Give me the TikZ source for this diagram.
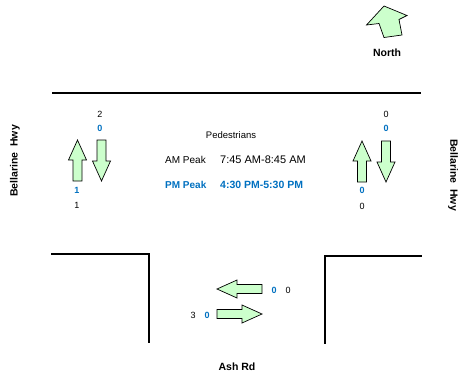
\documentclass[tikz,border=0pt]{standalone}
\usepackage{fontspec}
\setmainfont{Liberation Sans}
\usepackage{xcolor}
\usetikzlibrary{positioning}
\definecolor{VerdeFlecha}{RGB}{204,255,204}
\definecolor{AzulPM}{RGB}{0,112,192}

\tikzset{
  largo/.store in=\largo, largo=41,
  flecha/.pic={
    \draw[fill=VerdeFlecha,line width=0.7pt,line join=miter]
      (0,-4.5) -- (\largo-20,-4.5) -- (\largo-20,-9) -- (\largo,0)
      -- (\largo-20,9) -- (\largo-20,4.5) -- (0,4.5) -- cycle;
  },
  via/.style={line width=2.6pt},
  calle/.style={font=\bfseries\fontsize{10.5}{12}\selectfont},
  conteo/.style={font=\fontsize{9}{10}\selectfont,inner sep=0pt},
  conteopm/.style={conteo,text=AzulPM,font=\bfseries\fontsize{9}{10}\selectfont},
}

\begin{document}
\begin{tikzpicture}[x=1pt,y=-1pt]
  \useasboundingbox (0,0) rectangle (462,378);
  % bordes de la via
  \draw[via] (52,93)--(421,93);
  \draw[via,line cap=rect] (52,254)--(149,254)--(149,342);
  \draw[via,line cap=rect] (421,256)--(325,256)--(325,343);

  % norte
  \draw[fill=VerdeFlecha,line width=0.7pt,line join=miter]
    (384,6)--(407,15.5)--(399,19.5)--(402,35)--(384,37.5)--(379,23.5)--(366.5,25)--cycle;
  \node[calle] (norte) at (387,53) {North};

  % flechas de la Bellarine Hwy
  \pic[rotate=90] at (77.5,181) {flecha};
  \pic[rotate=-90] at (101.5,140) {flecha};
  \pic[rotate=90] at (362,182) {flecha};
  \pic[rotate=-90] at (386,141) {flecha};

  \node[conteo] (o1) at (100,114) {2};
  \node[conteopm] (o2) at (100,128) {0};
  \node[conteopm] (o3) at (77,190) {1};
  \node[conteo] (o4) at (77,205) {1};
  \node[conteo] (e1) at (386,114) {0};
  \node[conteopm] (e2) at (386,128) {0};
  \node[conteopm] (e3) at (362,190) {0};
  \node[conteo] (e4) at (362,206) {0};

  % flechas de Ash Rd
  \pic[rotate=180,largo=45] at (262,289) {flecha};
  \pic[largo=45] at (217,314) {flecha};
  \node[conteopm] (s1) at (274,290) {0};
  \node[conteo] (s2) at (288,290) {0};
  \node[conteo] (s3) at (193,315) {3};
  \node[conteopm] (s4) at (207,315) {0};

  % horarios
  \node[font=\fontsize{9.5}{11}\selectfont] (peatones) at (231,135) {Pedestrians};
  \node[font=\fontsize{10}{12}\selectfont,anchor=west,inner sep=0pt] (am) at (165,160) {AM Peak};
  \node[font=\fontsize{11}{13}\selectfont,anchor=west,inner sep=0pt] (amh) at (220,160) {7:45 AM-8:45 AM};
  \node[font=\bfseries\fontsize{10}{12}\selectfont,text=AzulPM,anchor=west,inner sep=0pt] (pm) at (165,185) {PM Peak};
  \node[font=\bfseries\fontsize{10.5}{12}\selectfont,text=AzulPM,anchor=west,inner sep=0pt] (pmh) at (220,185) {4:30 PM-5:30 PM};

  % nombres de calles
  \node[calle,rotate=90] (hwyo) at (15,161) {Bellarine\ \ Hwy};
  \node[calle,rotate=-90] (hwye) at (453,175) {Bellarine\ \ Hwy};
  \node[calle] (ash) at (237,367) {Ash Rd};
\end{tikzpicture}
\end{document}
